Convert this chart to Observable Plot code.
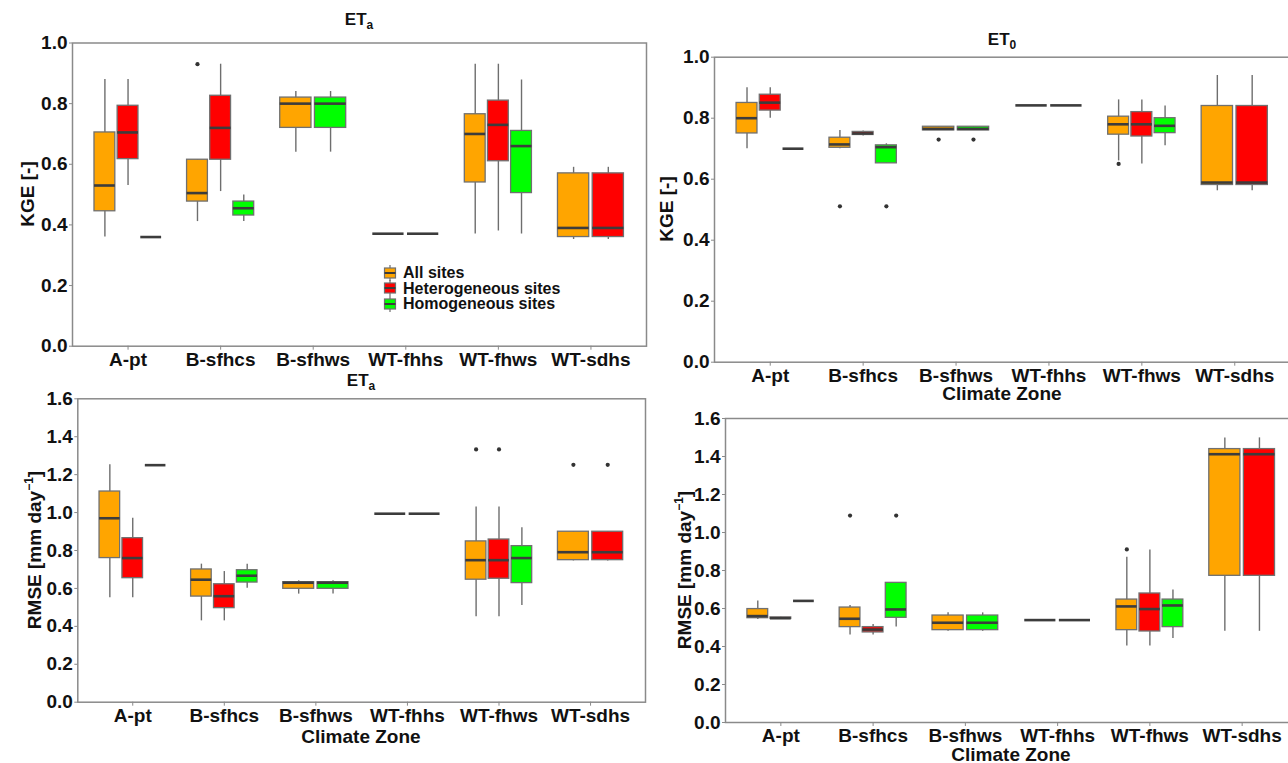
<!DOCTYPE html>
<html>
<head>
<meta charset="utf-8">
<script src="https://cdn.jsdelivr.net/npm/d3@7"></script>
<script src="https://cdn.jsdelivr.net/npm/@observablehq/plot@0.6"></script>
<style>
  html, body { margin: 0; padding: 0; background: #fff; }
  body { width: 1288px; height: 763px; overflow: hidden; position: relative;
         font-family: "Liberation Sans", Arial, sans-serif; color: #111; }
  .abs { position: absolute; }
  .ttl { position: absolute; font-weight: bold; font-size: 17px; transform: translate(-50%, -50%); white-space: nowrap; }
  .ttl sub { font-size: 12px; vertical-align: -4px; font-weight: bold; }
  .xt { position: absolute; font-weight: bold; font-size: 19px; transform: translate(-50%, -50%); white-space: nowrap; }
  .yt { position: absolute; font-weight: bold; font-size: 19px; transform: translate(-50%, -50%) rotate(-90deg); white-space: nowrap; }
  .yt sup { font-size: 12px; vertical-align: 8px; }
  .leg { position: absolute; font-weight: bold; font-size: 16px; line-height: 15.6px; }
  .leg div { display: flex; align-items: center; height: 15.6px; white-space: nowrap; }
  .leg svg { margin-right: 6px; }
  .panel svg { background: transparent !important; overflow: visible; max-width: none !important; }
</style>
</head>
<body>
<script>
// ---------- data ----------
const zones = ["A-pt", "B-sfhcs", "B-sfhws", "WT-fhhs", "WT-fhws", "WT-sdhs"];
const groups = ["All sites", "Heterogeneous sites", "Homogeneous sites"];
const groupColors = ["#FFA500", "#FF0000", "#00FF00"];
const kgeTicks = [0, 0.2, 0.4, 0.6, 0.8, 1.0];
const rmseTicks = [0, 0.2, 0.4, 0.6, 0.8, 1.0, 1.2, 1.4, 1.6];

// [zone, group, whisker low, Q1, median, Q3, whisker high]
const kgeEtaBoxes = [
  ["A-pt", "All sites", 0.36, 0.445, 0.53, 0.705, 0.88],
  ["A-pt", "Heterogeneous sites", 0.53, 0.617, 0.705, 0.793, 0.88],
  ["A-pt", "Homogeneous sites", 0.36, 0.36, 0.36, 0.36, 0.36],
  ["B-sfhcs", "All sites", 0.411, 0.477, 0.505, 0.615, 0.615],
  ["B-sfhcs", "Heterogeneous sites", 0.51, 0.615, 0.72, 0.826, 0.93],
  ["B-sfhcs", "Homogeneous sites", 0.411, 0.431, 0.455, 0.477, 0.499],
  ["B-sfhws", "All sites", 0.64, 0.72, 0.80, 0.82, 0.84],
  ["B-sfhws", "Homogeneous sites", 0.64, 0.72, 0.80, 0.82, 0.84],
  ["WT-fhhs", "All sites", 0.371, 0.371, 0.371, 0.371, 0.371],
  ["WT-fhhs", "Heterogeneous sites", 0.371, 0.371, 0.371, 0.371, 0.371],
  ["WT-fhws", "All sites", 0.37, 0.54, 0.70, 0.765, 0.93],
  ["WT-fhws", "Heterogeneous sites", 0.38, 0.61, 0.73, 0.81, 0.93],
  ["WT-fhws", "Homogeneous sites", 0.37, 0.505, 0.66, 0.71, 0.878],
  ["WT-sdhs", "All sites", 0.352, 0.36, 0.39, 0.57, 0.59],
  ["WT-sdhs", "Heterogeneous sites", 0.352, 0.36, 0.39, 0.57, 0.59]
];
const kgeEtaOutliers = [["B-sfhcs", "All sites", 0.93]];

const kgeEt0Boxes = [
  ["A-pt", "All sites", 0.70, 0.75, 0.80, 0.85, 0.90],
  ["A-pt", "Heterogeneous sites", 0.80, 0.825, 0.851, 0.877, 0.90],
  ["A-pt", "Homogeneous sites", 0.70, 0.70, 0.70, 0.70, 0.70],
  ["B-sfhcs", "All sites", 0.70, 0.703, 0.714, 0.736, 0.76],
  ["B-sfhcs", "Heterogeneous sites", 0.742, 0.745, 0.75, 0.755, 0.758],
  ["B-sfhcs", "Homogeneous sites", 0.652, 0.652, 0.705, 0.711, 0.716],
  ["B-sfhws", "All sites", 0.76, 0.76, 0.765, 0.772, 0.772],
  ["B-sfhws", "Homogeneous sites", 0.76, 0.76, 0.765, 0.772, 0.772],
  ["WT-fhhs", "All sites", 0.842, 0.842, 0.842, 0.842, 0.842],
  ["WT-fhhs", "Heterogeneous sites", 0.842, 0.842, 0.842, 0.842, 0.842],
  ["WT-fhws", "All sites", 0.66, 0.746, 0.78, 0.805, 0.86],
  ["WT-fhws", "Heterogeneous sites", 0.65, 0.74, 0.78, 0.82, 0.86],
  ["WT-fhws", "Homogeneous sites", 0.71, 0.751, 0.775, 0.80, 0.84],
  ["WT-sdhs", "All sites", 0.562, 0.581, 0.589, 0.84, 0.94],
  ["WT-sdhs", "Heterogeneous sites", 0.562, 0.581, 0.589, 0.84, 0.94]
];
const kgeEt0Outliers = [
  ["B-sfhcs", "All sites", 0.511],
  ["B-sfhcs", "Homogeneous sites", 0.511],
  ["B-sfhws", "All sites", 0.73],
  ["B-sfhws", "Homogeneous sites", 0.73],
  ["WT-fhws", "All sites", 0.65]
];

const rmseEtaBoxes = [
  ["A-pt", "All sites", 0.551, 0.76, 0.97, 1.111, 1.252],
  ["A-pt", "Heterogeneous sites", 0.551, 0.654, 0.76, 0.865, 0.97],
  ["A-pt", "Homogeneous sites", 1.25, 1.25, 1.25, 1.25, 1.25],
  ["B-sfhcs", "All sites", 0.429, 0.557, 0.646, 0.70, 0.728],
  ["B-sfhcs", "Heterogeneous sites", 0.429, 0.496, 0.559, 0.622, 0.689],
  ["B-sfhcs", "Homogeneous sites", 0.601, 0.631, 0.667, 0.696, 0.728],
  ["B-sfhws", "All sites", 0.57, 0.598, 0.63, 0.633, 0.64],
  ["B-sfhws", "Homogeneous sites", 0.57, 0.598, 0.63, 0.633, 0.64],
  ["WT-fhhs", "All sites", 0.994, 0.994, 0.994, 0.994, 0.994],
  ["WT-fhhs", "Heterogeneous sites", 0.994, 0.994, 0.994, 0.994, 0.994],
  ["WT-fhws", "All sites", 0.45, 0.646, 0.749, 0.848, 1.029],
  ["WT-fhws", "Heterogeneous sites", 0.45, 0.651, 0.749, 0.858, 1.029],
  ["WT-fhws", "Homogeneous sites", 0.51, 0.628, 0.76, 0.823, 0.92],
  ["WT-sdhs", "All sites", 0.745, 0.749, 0.791, 0.899, 0.899],
  ["WT-sdhs", "Heterogeneous sites", 0.745, 0.749, 0.791, 0.899, 0.899]
];
const rmseEtaOutliers = [
  ["WT-fhws", "All sites", 1.333],
  ["WT-fhws", "Heterogeneous sites", 1.333],
  ["WT-sdhs", "All sites", 1.252],
  ["WT-sdhs", "Heterogeneous sites", 1.252]
];

const rmseEt0Boxes = [
  ["A-pt", "All sites", 0.542, 0.549, 0.56, 0.597, 0.639],
  ["A-pt", "Heterogeneous sites", 0.544, 0.545, 0.549, 0.553, 0.554],
  ["A-pt", "Homogeneous sites", 0.64, 0.64, 0.64, 0.64, 0.64],
  ["B-sfhcs", "All sites", 0.46, 0.502, 0.546, 0.605, 0.616],
  ["B-sfhcs", "Heterogeneous sites", 0.46, 0.474, 0.489, 0.502, 0.516],
  ["B-sfhcs", "Homogeneous sites", 0.502, 0.551, 0.595, 0.735, 0.735],
  ["B-sfhws", "All sites", 0.48, 0.486, 0.525, 0.563, 0.577],
  ["B-sfhws", "Homogeneous sites", 0.48, 0.486, 0.525, 0.563, 0.577],
  ["WT-fhhs", "All sites", 0.539, 0.539, 0.539, 0.539, 0.539],
  ["WT-fhhs", "Heterogeneous sites", 0.539, 0.539, 0.539, 0.539, 0.539],
  ["WT-fhws", "All sites", 0.402, 0.486, 0.611, 0.647, 0.870],
  ["WT-fhws", "Heterogeneous sites", 0.402, 0.479, 0.597, 0.679, 0.908],
  ["WT-fhws", "Homogeneous sites", 0.442, 0.502, 0.616, 0.647, 0.698],
  ["WT-sdhs", "All sites", 0.48, 0.772, 1.412, 1.439, 1.498],
  ["WT-sdhs", "Heterogeneous sites", 0.48, 0.772, 1.412, 1.439, 1.498]
];
const rmseEt0Outliers = [
  ["B-sfhcs", "All sites", 1.089],
  ["B-sfhcs", "Homogeneous sites", 1.089],
  ["WT-fhws", "All sites", 0.911]
];

// ---------- helpers ----------
const FONT = '"Liberation Sans", Arial, sans-serif';
const GRAY = "#8a8a8a";

// ggplot-like dodge: 0.75 of a category shared by the groups present, boxes 90% of slot
function layout(boxes, outliers) {
  const rows = boxes.map(([zone, group, low, q1, med, q3, high]) => ({zone, group, low, q1, med, q3, high}));
  for (const zone of zones) {
    const zi = zones.indexOf(zone);
    const present = groups.filter(g => rows.some(r => r.zone === zone && r.group === g));
    const sw = 0.75 / present.length;
    present.forEach((g, k) => {
      const r = rows.find(r => r.zone === zone && r.group === g);
      r.x = zi - 0.375 + (k + 0.5) * sw;
      r.x1 = r.x - 0.45 * sw;
      r.x2 = r.x + 0.45 * sw;
    });
  }
  const outs = outliers.map(([zone, group, v]) => {
    const r = rows.find(r => r.zone === zone && r.group === group);
    return {zone, group, v, x: r.x};
  });
  return {rows, outs};
}

function panel(cfg) {
  const {boxes, outliers, ticks, left, top, width, height, frame} = cfg;
  const [fl, fr, ft, fb] = frame;
  const {rows, outs} = layout(boxes, outliers);
  const svg = Plot.plot({
    width, height,
    marginLeft: fl - left,
    marginRight: left + width - fr,
    marginTop: ft - top,
    marginBottom: top + height - fb,
    x: {type: "linear", domain: [-0.6, zones.length - 0.4]},
    y: {domain: [0, ticks[ticks.length - 1]]},
    color: {domain: groups, range: groupColors},
    style: {fontFamily: FONT, fontSize: "19px", fontWeight: "bold", color: "#111", background: "transparent"},
    marks: [
      Plot.ruleX(rows.filter(r => r.high > r.low), {x: "x", y1: "low", y2: "high", stroke: "#6e6e6e", strokeWidth: 1.4}),
      Plot.rect(rows.filter(r => r.q3 > r.q1), {x1: "x1", x2: "x2", y1: "q1", y2: "q3", fill: "group", stroke: "#707070", strokeWidth: 1.3}),
      Plot.ruleY(rows, {x1: "x1", x2: "x2", y: "med", stroke: "#3c3c3c", strokeWidth: 2.6}),
      Plot.dot(outs, {x: "x", y: "v", r: 2.1, fill: "#333", stroke: null}),
      Plot.frame({stroke: GRAY, strokeWidth: 1.5}),
      Plot.axisX({ticks: d3.range(zones.length), tickFormat: i => zones[i], tickSize: 4, tickPadding: 2,
                  stroke: GRAY, fill: "#111", fontSize: 19, fontWeight: "bold", label: null}),
      Plot.axisY({ticks, tickFormat: d3.format(".1f"), tickSize: 3, tickPadding: 2,
                  stroke: GRAY, fill: "#111", fontSize: 19, fontWeight: "bold", label: null})
    ]
  });
  const wrap = document.createElement("div");
  wrap.className = "abs panel";
  wrap.style.left = left + "px";
  wrap.style.top = top + "px";
  wrap.style.width = width + "px";
  wrap.style.height = height + "px";
  wrap.appendChild(svg);
  document.body.appendChild(wrap);
}

function html(cls, x, y, content) {
  const d = document.createElement("div");
  d.className = cls;
  d.style.left = x + "px";
  d.style.top = y + "px";
  d.innerHTML = content;
  document.body.appendChild(d);
  return d;
}

// ---------- panels ----------
panel({boxes: kgeEtaBoxes, outliers: kgeEtaOutliers, ticks: kgeTicks,
       left: 0, top: 0, width: 662, height: 372, frame: [72, 646, 42.5, 345.7]});
panel({boxes: kgeEt0Boxes, outliers: kgeEt0Outliers, ticks: kgeTicks,
       left: 650, top: 0, width: 650, height: 400, frame: [714, 1290, 56.7, 361.7]});
panel({boxes: rmseEtaBoxes, outliers: rmseEtaOutliers, ticks: rmseTicks,
       left: 0, top: 375, width: 662, height: 388, frame: [77.3, 645, 398.3, 701.7]});
panel({boxes: rmseEt0Boxes, outliers: rmseEt0Outliers, ticks: rmseTicks,
       left: 650, top: 405, width: 660, height: 358, frame: [725, 1297, 418, 722]});

// ---------- titles and axis titles ----------
html("ttl", 359, 21, "ET<sub>a</sub>");
html("ttl", 1002, 41, "ET<sub>0</sub>");
html("ttl", 361, 382, "ET<sub>a</sub>");

html("yt", 28, 194, "KGE [-]");
html("yt", 667, 209, "KGE [-]");
html("yt", 34, 550, "RMSE [mm day<sup>−1</sup>]");
html("yt", 684, 570, "RMSE [mm day<sup>−1</sup>]");

html("xt", 1002, 394, "Climate Zone");
html("xt", 361, 737, "Climate Zone");
html("xt", 1011, 755, "Climate Zone");

// ---------- legend ----------
const leg = html("leg", 383, 265, "");
groups.forEach((g, i) => {
  const row = document.createElement("div");
  row.innerHTML =
    `<svg width="14" height="16" viewBox="0 0 14 16">
       <line x1="7" x2="7" y1="0" y2="16" stroke="#6e6e6e" stroke-width="1.2"/>
       <rect x="1.5" y="3" width="11" height="10" fill="${groupColors[i]}" stroke="#707070" stroke-width="1.2"/>
       <line x1="1.5" x2="12.5" y1="8" y2="8" stroke="#3c3c3c" stroke-width="2"/>
     </svg><span>${g}</span>`;
  leg.appendChild(row);
});
</script>
</body>
</html>
